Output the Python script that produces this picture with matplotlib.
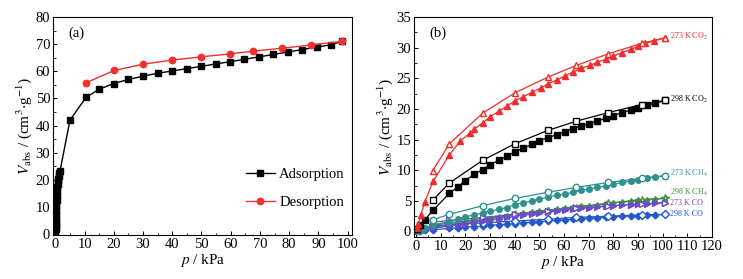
import matplotlib
matplotlib.use("Agg")
import matplotlib.pyplot as plt
from matplotlib.ticker import MultipleLocator

plt.rcParams['font.family'] = ['Liberation Serif', 'DejaVu Serif']
plt.rcParams['mathtext.fontset'] = 'stix'

# ---------------- panel (a) data ----------------
a_ads_p = [0.02, 0.04, 0.06, 0.08, 0.1, 0.13, 0.16, 0.2, 0.25, 0.3, 0.35, 0.4, 0.5, 0.6,
           0.7, 0.8, 0.9, 1.0, 1.2, 1.4, 1.6, 5.0, 10.5, 15.0, 20.0, 25.0, 30.0, 35.0, 40.0,
           45.0, 49.8, 54.8, 59.7, 64.7, 69.6, 74.6, 79.5, 84.5, 89.4, 94.4, 98.0]
a_ads_v = [0.3, 1.0, 1.8, 2.6, 3.4, 4.5, 5.6, 7.0, 8.5, 10.0, 11.3, 12.5, 14.3, 15.8,
           17.2, 18.4, 19.5, 20.4, 21.6, 22.5, 23.2, 42.0, 50.4, 53.4, 55.5, 57.0, 58.2, 59.3, 60.1,
           61.0, 61.8, 62.7, 63.5, 64.4, 65.3, 66.2, 67.1, 68.0, 68.9, 69.8, 71.0]
a_des_p = [98.0, 87.5, 77.6, 67.6, 59.6, 49.7, 39.8, 29.9, 20.1, 10.4]
a_des_v = [71.0, 69.7, 68.5, 67.4, 66.4, 65.3, 64.1, 62.6, 60.3, 55.7]

# ---------------- panel (b) data ----------------
p_ads = [0.5, 1.5, 3.5, 7.0, 13.5, 17.0, 20.0, 23.5, 27.0, 30.0, 33.5, 37.0, 40.0, 43.5,
         47.0, 50.0, 53.5, 57.0, 60.5, 63.5, 67.0, 70.0, 73.5, 77.0, 80.0, 83.5, 87.0,
         90.0, 93.5, 97.0, 101.0]
p_des = [101.0, 91.5, 78.0, 65.0, 53.5, 40.0, 27.0, 13.5, 6.8]

co2_273_ads_p = [0.5, 1.0, 2.0, 3.5, 7.0, 13.5, 18.0, 22.0, 23.5, 27.0, 30.0, 33.5, 37.0, 40.0,
                 43.5, 47.0, 50.5, 53.5, 57.0, 60.5, 63.5, 67.0, 70.5, 73.5, 77.0, 80.0,
                 83.5, 87.0, 90.0, 93.0, 96.5, 101.0]
co2_273_ads = [0.6, 1.3, 2.7, 4.8, 8.2, 12.5, 14.8, 16.1, 16.7, 17.7, 18.7, 19.6, 20.5, 21.3,
               22.0, 22.7, 23.4, 24.1, 24.7, 25.4, 26.0, 26.6, 27.1, 27.6, 28.1, 28.6,
               29.2, 29.7, 30.2, 30.7, 31.1, 31.6]
co2_273_des = [31.6, 30.7, 29.0, 27.1, 25.2, 22.6, 19.3, 14.3, 9.9]

co2_298_ads = [0.4, 1.0, 1.9, 3.5, 6.2, 7.3, 8.3, 9.3, 10.1, 10.9, 11.6, 12.3, 13.0, 13.6,
               14.2, 14.8, 15.3, 15.8, 16.3, 16.8, 17.2, 17.6, 18.0, 18.5, 18.9, 19.4,
               19.8, 20.2, 20.6, 20.9, 21.4]
co2_298_des = [21.4, 20.7, 19.4, 18.0, 16.5, 14.3, 11.6, 7.9, 5.1]

ch4_273_ads = [0.1, 0.3, 0.6, 1.1, 1.6, 2.0, 2.4, 2.7, 3.0, 3.3, 3.6, 3.9, 4.4, 4.7,
               5.0, 5.3, 5.6, 5.9, 6.1, 6.4, 6.7, 6.9, 7.2, 7.4, 7.7, 8.0,
               8.2, 8.4, 8.7, 8.9, 9.1]
ch4_273_des = [9.1, 8.7, 8.0, 7.2, 6.4, 5.4, 4.2, 2.8, 1.9]

ch4_298_ads = [0.1, 0.2, 0.4, 0.7, 1.1, 1.3, 1.5, 1.7, 1.9, 2.1, 2.3, 2.5, 2.8, 3.0,
               3.1, 3.3, 3.5, 3.6, 3.8, 4.0, 4.1, 4.2, 4.4, 4.5, 4.7, 4.8,
               4.9, 5.1, 5.2, 5.3, 5.4]
ch4_298_des = [5.4, 5.2, 4.6, 3.9, 3.4, 2.8, 2.1, 1.4, 1.0]

co_273_ads = [0.05, 0.1, 0.3, 0.5, 0.9, 1.1, 1.3, 1.5, 1.7, 1.9, 2.1, 2.3, 2.5, 2.7,
              2.8, 3.0, 3.2, 3.3, 3.5, 3.6, 3.8, 3.9, 4.0, 4.1, 4.2, 4.3,
              4.4, 4.5, 4.5, 4.6, 4.7]
co_273_des = [4.7, 4.5, 4.2, 3.8, 3.3, 2.8, 2.3, 1.8, 1.5]

co_298_ads = [0.05, 0.1, 0.2, 0.3, 0.5, 0.6, 0.7, 0.8, 0.9, 1.0, 1.1, 1.2, 1.3, 1.4,
              1.5, 1.6, 1.7, 1.8, 1.9, 2.0, 2.1, 2.2, 2.2, 2.3, 2.4, 2.5,
              2.5, 2.6, 2.7, 2.7, 2.8]
co_298_des = [2.8, 2.7, 2.5, 2.3, 2.0, 1.7, 1.4, 1.1, 0.9]

labels_b = ['273 K CO$_2$', '298 K CO$_2$', '273 K CH$_4$', '298 K CH$_4$', '273 K CO', '298 K CO']
label_y = [31.9, 21.6, 9.5, 6.3, 4.6, 2.9]

RED = '#f52a2a'
BLACK = '#000000'
TEAL = '#2f9090'
GREEN = '#3f8f3f'
PURPLE = '#6a4ccc'
BLUE = '#2457c8'

FS = 10.5

fig = plt.figure(figsize=(7.43, 2.79), dpi=100)
axa = fig.add_axes([53/743, 1-235/279, (352-53)/743, (235-17)/279])
axb = fig.add_axes([414/743, 1-237/279, (712-414)/743, (237-17)/279])

# ---------- panel (a) ----------
axa.plot(a_ads_p, a_ads_v, '-s', color=BLACK, ms=4.2, lw=1.0, label='Adsorption')
axa.plot(a_des_p, a_des_v, '-o', color='#f03030', ms=4.6, lw=1.0,
         markerfacecolor='#f03030', label='Desorption')
axa.set_xlim(-0.8, 101.5)
axa.set_ylim(-0.3, 80)
axa.xaxis.set_major_locator(MultipleLocator(10))
axa.xaxis.set_minor_locator(MultipleLocator(5))
axa.yaxis.set_major_locator(MultipleLocator(10))
axa.yaxis.set_minor_locator(MultipleLocator(5))
axa.text(0.05, 0.925, '(a)', transform=axa.transAxes, fontsize=FS, va='center')
leg = axa.legend(loc='lower right', bbox_to_anchor=(1.02, 0.06), frameon=False,
                 fontsize=FS, handlelength=2.0, handletextpad=0.3, labelspacing=1.0)
axa.set_xlabel('$p$ / kPa', fontsize=FS + 0.5, labelpad=1)
axa.set_ylabel('$V_{\\rm abs}$ / (cm$^3$$\\cdot$g$^{-1}$)', fontsize=FS + 0.5, labelpad=1)

# ---------- panel (b) ----------
def pair(ax, ads_p, ads, des, color, mk, ms, mfc_open='white'):
    ax.plot(ads_p, ads, '-', marker=mk, color=color, ms=ms, lw=0.9)
    ax.plot(p_des, des, '-', marker=mk, color=color, ms=ms + 0.6, lw=0.9,
            markerfacecolor=mfc_open)

pair(axb, p_ads, ch4_298_ads, ch4_298_des, GREEN, '*', 5.0)
pair(axb, p_ads, co_298_ads, co_298_des, BLUE, 'D', 3.4)
pair(axb, p_ads, co_273_ads, co_273_des, PURPLE, '>', 4.0)
pair(axb, p_ads, ch4_273_ads, ch4_273_des, TEAL, 'o', 4.0)
pair(axb, p_ads, co2_298_ads, co2_298_des, BLACK, 's', 3.8)
pair(axb, co2_273_ads_p, co2_273_ads, co2_273_des, RED, '^', 4.4)

for lab, yv, c in zip(labels_b, label_y, [RED, BLACK, TEAL, GREEN, PURPLE, BLUE]):
    axb.text(103.0, yv, lab, color=c, fontsize=5.8, va='center', ha='left')

axb.set_xlim(-0.8, 120)
axb.set_ylim(-0.9, 35)
axb.xaxis.set_major_locator(MultipleLocator(10))
axb.xaxis.set_minor_locator(MultipleLocator(5))
axb.yaxis.set_major_locator(MultipleLocator(5))
axb.yaxis.set_minor_locator(MultipleLocator(2.5))
axb.text(0.05, 0.925, '(b)', transform=axb.transAxes, fontsize=FS, va='center')
axb.set_xlabel('$p$ / kPa', fontsize=FS + 0.5, labelpad=1)
axb.set_ylabel('$V_{\\rm abs}$ / (cm$^3$$\\cdot$g$^{-1}$)', fontsize=FS + 0.5, labelpad=1)

for ax in (axa, axb):
    ax.tick_params(which='both', direction='in', top=False, right=False, labelsize=FS, pad=2)
    ax.tick_params(which='major', length=3, width=0.7)
    ax.tick_params(which='minor', length=1.8, width=0.6)
    for s in ax.spines.values():
        s.set_linewidth(0.8)

fig.savefig('out.png', dpi=100)
